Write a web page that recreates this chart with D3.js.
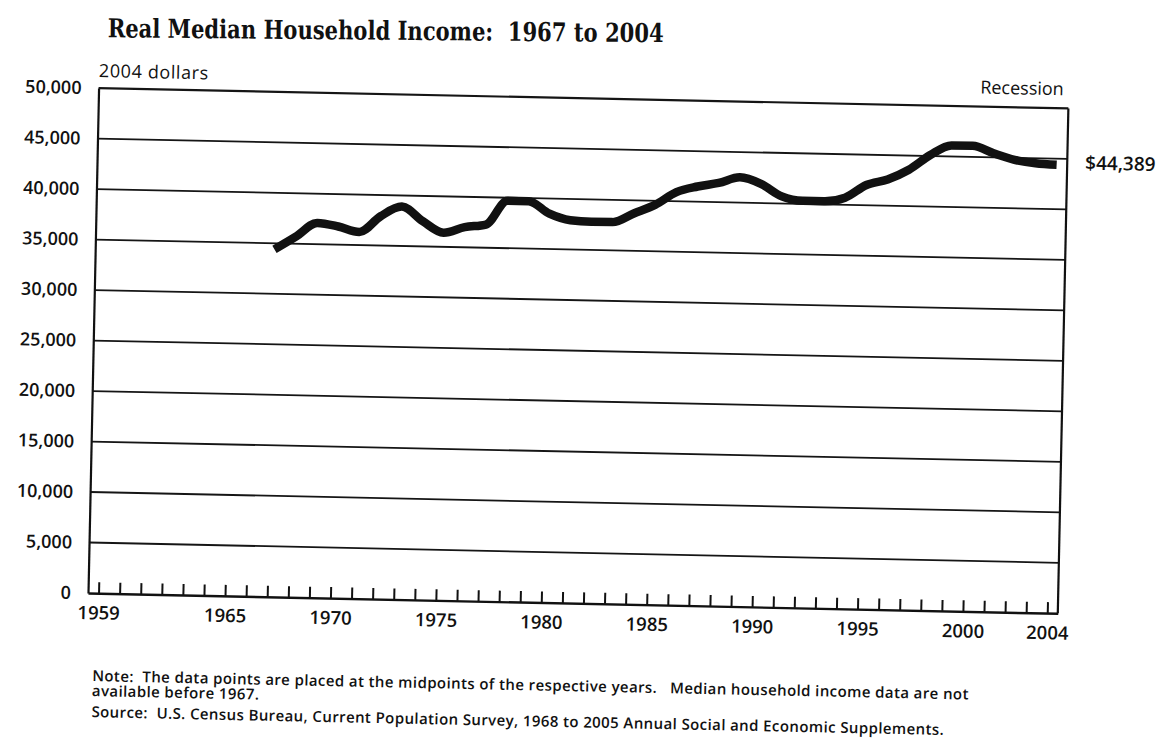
<!DOCTYPE html>
<html>
<head>
<meta charset="utf-8">
<script src="https://cdn.jsdelivr.net/npm/d3@7/dist/d3.min.js"></script>
<style>
  body { margin: 0; background: #fff; }
  text { fill: #111; font-family: 'Open Sans', sans-serif; }
</style>
</head>
<body>
<div class="canvas"></div>
<script>
// income data, 2004 dollars
const years = [1967, 1968, 1969, 1970, 1971, 1972, 1973, 1974, 1975, 1976,
  1977, 1978, 1979, 1980, 1981, 1982, 1983, 1984, 1985, 1986,
  1987, 1988, 1989, 1990, 1991, 1992, 1993, 1994, 1995, 1996,
  1997, 1998, 1999, 2000, 2001, 2002, 2003, 2004];
const incomes = [34400, 35700, 37100, 36800, 36300, 37900, 38900, 37500, 36400, 37000,
  37300, 39700, 39700, 38500, 37900, 37800, 37800, 38700, 39600, 40900,
  41500, 41900, 42500, 41900, 40700, 40300, 40300, 40700, 42000, 42600,
  43600, 45100, 46100, 46100, 45400, 44800, 44500, 44389];
const yTicks = [0, 5000, 10000, 15000, 20000, 25000, 30000, 35000, 40000, 45000, 50000];
const xTicks = d3.range(1959, 2005);
const xLabels = [1959, 1965, 1970, 1975, 1980, 1985, 1990, 1995, 2000, 2004];

const data = years.map((yr, i) => ({ year: yr, value: incomes[i] }));

const dims = { width: 1166, height: 738 };
const plot = { left: 88, right: 1058, top: 88, bottom: 593 };
const tilt = 1.2; // the scanned page is a bit crooked

const svg = d3.select('.canvas')
  .append('svg')
    .attr('width', dims.width)
    .attr('height', dims.height)

const page = svg.append('g')
  .attr('transform', `rotate(${tilt}, ${plot.left}, ${plot.bottom})`)

const x = d3.scaleLinear()
  .domain([1958.5, 2004.5])
  .range([plot.left, plot.right])

const y = d3.scaleLinear()
  .domain([0, 50000])
  .range([plot.bottom, plot.top])

// gridlines
page.selectAll('.grid')
  .data(yTicks.filter(d => d > 0))
  .enter()
  .append('line')
    .attr('class', 'grid')
    .attr('x1', plot.left)
    .attr('x2', plot.right)
    .attr('y1', d => y(d))
    .attr('y2', d => y(d))
    .attr('stroke', '#151515')
    .attr('stroke-width', d => d == 50000 ? 2.2 : 1.8)

// right border
page.append('line')
  .attr('x1', plot.right).attr('x2', plot.right)
  .attr('y1', plot.top).attr('y2', plot.bottom)
  .attr('stroke', '#111')
  .attr('stroke-width', 2.2)

const yAxis = d3.axisLeft(y)
  .tickValues(yTicks)
  .tickSize(0)
  .tickPadding(17)
  .tickFormat(d3.format(','))

const yGroup = page.append('g')
  .attr('transform', `translate(${plot.left}, 0)`)
  .call(yAxis)
yGroup.select('.domain').attr('stroke', '#111').attr('stroke-width', 2.2)
yGroup.selectAll('text')
  .attr('font-family', 'Open Sans')
  .attr('font-size', 18)
  .attr('font-weight', 600)
  .attr('fill', '#111')

const xAxis = d3.axisBottom(x)
  .tickValues(xTicks)
  .tickSizeInner(-11)
  .tickSizeOuter(0)
  .tickPadding(13)
  .tickFormat(d => xLabels.includes(d) ? d : '')

const xGroup = page.append('g')
  .attr('transform', `translate(0, ${plot.bottom})`)
  .call(xAxis)
xGroup.select('.domain').attr('stroke', '#111').attr('stroke-width', 2.4)
xGroup.selectAll('.tick line').attr('stroke', '#111').attr('stroke-width', 2)
xGroup.selectAll('text')
  .attr('font-family', 'Open Sans')
  .attr('font-size', 18.5)
  .attr('font-weight', 600)
  .attr('fill', '#111')

// income line
const line = d3.line()
  .x(d => x(d.year))
  .y(d => y(d.value))
  .curve(d3.curveMonotoneX)

page.append('path')
  .datum(data)
  .attr('d', line)
  .attr('fill', 'none')
  .attr('stroke', '#111')
  .attr('stroke-width', 8.5)
  .attr('stroke-linejoin', 'round')

const last = data[data.length - 1];
page.append('text')
  .attr('x', plot.right + 18)
  .attr('y', y(last.value) + 4)
  .attr('font-size', 19)
  .attr('font-weight', 600)
  .text('$' + d3.format(',')(last.value))

page.append('text')
  .attr('x', plot.right - 5)
  .attr('y', 75)
  .attr('text-anchor', 'end')
  .attr('font-size', 18)
  .text('Recession')

page.append('text')
  .attr('x', plot.left)
  .attr('y', 77)
  .attr('font-size', 18)
  .attr('letter-spacing', 0.6)
  .text('2004 dollars')

// title sits a little less crooked than the chart
page.append('text')
  .attr('x', 96)
  .attr('y', 37)
  .attr('transform', 'rotate(-0.7, 96, 37)')
  .attr('font-size', 26)
  .attr('font-weight', 'bold')
  .attr('textLength', 556)
  .attr('lengthAdjust', 'spacingAndGlyphs')
  .style('font-family', 'DejaVu Serif')
  .style('white-space', 'pre')
  .text('Real Median Household Income:  1967 to 2004')

const notes = [
  { y: 681, t: 'Note:  The data points are placed at the midpoints of the respective years.   Median household income data are not' },
  { y: 696, t: 'available before 1967.' },
  { y: 717, t: 'Source:  U.S. Census Bureau, Current Population Survey, 1968 to 2005 Annual Social and Economic Supplements.' }
];
page.selectAll('.note')
  .data(notes)
  .enter()
  .append('text')
    .attr('class', 'note')
    .attr('x', 94)
    .attr('y', d => d.y)
    .attr('font-size', 15)
    .attr('font-weight', 600)
    .attr('letter-spacing', 0.4)
    .style('white-space', 'pre')
    .text(d => d.t)
</script>
</body>
</html>
